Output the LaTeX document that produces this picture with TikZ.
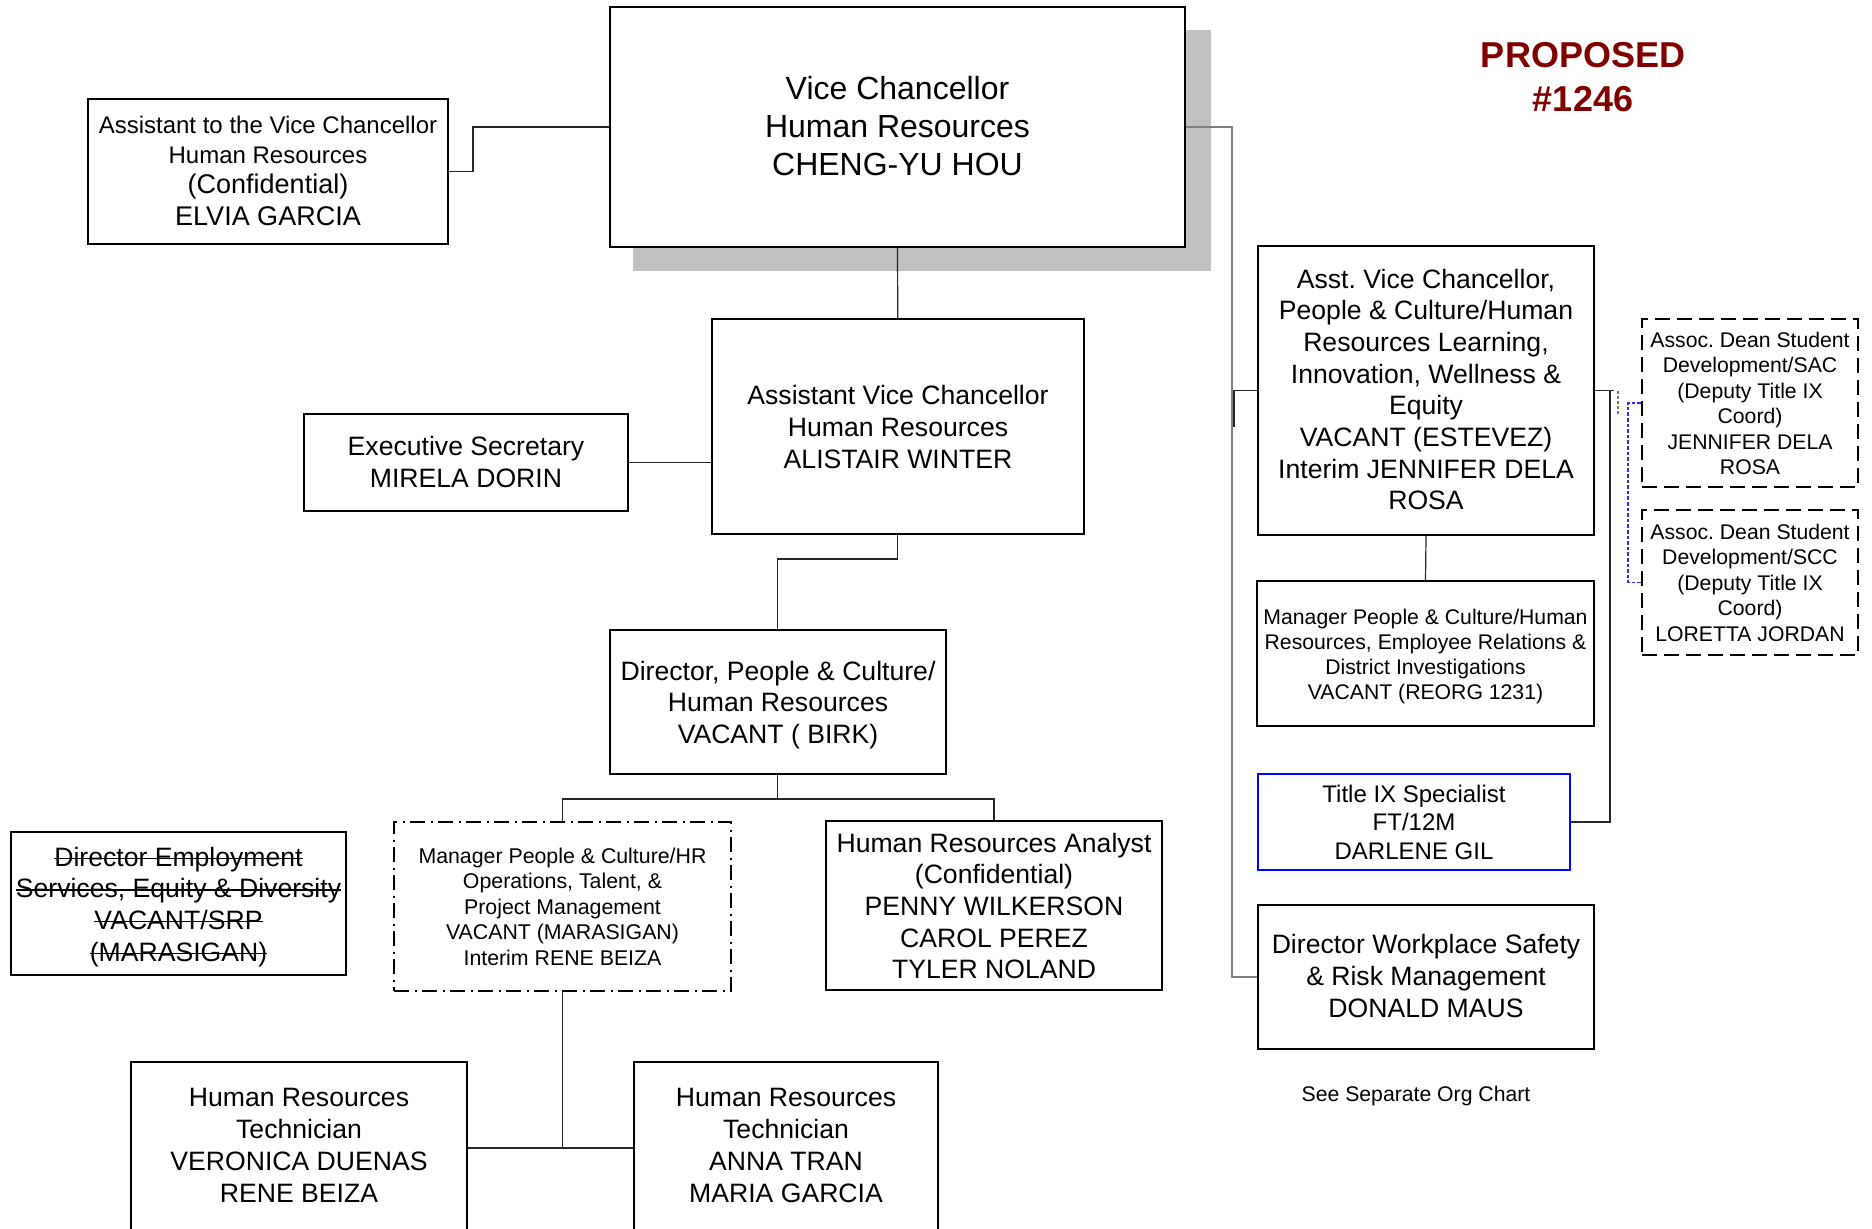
\documentclass[tikz,border=0pt]{standalone}
\usepackage{fontspec}
\setmainfont{Liberation Sans}
\usetikzlibrary{fit}
\newsavebox{\strkbox}
\newcommand{\mystrike}[1]{\sbox{\strkbox}{#1}\rlap{\rule[0.27em]{\wd\strkbox}{0.6pt}}\usebox{\strkbox}}
\definecolor{shadowgray}{RGB}{192,192,192}
\definecolor{propred}{RGB}{128,0,0}
\definecolor{linkblue}{RGB}{0,0,255}
\definecolor{dashblue}{RGB}{40,40,255}
\begin{document}
\frenchspacing
\begin{tikzpicture}[x=0.5pt,y=-0.5pt,
  box/.style={draw=black, fill=white, line width=1pt, inner sep=0pt, rectangle},
  dashbox/.style={box, dash pattern=on 7.5pt off 3.5pt},
  dotdashbox/.style={box, dash pattern=on 7.5pt off 2.75pt on 1pt off 2.75pt},
  bluebox/.style={box, draw=linkblue},
  txt/.style={align=center, inner sep=0pt, anchor=north, text=black},
  bigfont/.style={font=\fontsize{16}{19}\selectfont},
  midfont/.style={font=\fontsize{13.3}{15.85}\selectfont},
  smlfont/.style={font=\fontsize{10.6}{12.7}\selectfont},
  conn/.style={draw=black!85, line width=0.6pt},
  gconn/.style={draw=black!50, line width=0.7pt},
  gdash/.style={draw=black!55, line width=0.6pt, dash pattern=on 1.5pt off 1pt},
  bdash/.style={draw=dashblue, line width=0.6pt, dash pattern=on 1.8pt off 1pt},
]
\useasboundingbox (0,0) rectangle (1872,1228);
\clip (0,0) rectangle (1872,1228);

% ---------- boxes ----------
\fill[shadowgray] (633,30) rectangle (1211,271);
\node[box, fit={(610,7) (1185,247)}] (vc) {};
\node[box, fit={(88,99) (448,244)}] (asst) {};
\node[box, fit={(711.5,319) (1084,534)}] (avchr) {};
\node[box, fit={(304,414) (628,511)}] (exec) {};
\node[box, fit={(610,630) (945.5,774)}] (dirpc) {};
\node[dotdashbox, fit={(394,822) (731,991)}] (mgrops) {};
\node[box, fit={(826,821) (1162,990)}] (analyst) {};
\node[box, fit={(11,832) (346,975)}] (diremp) {};
\node[box, fit={(131,1062) (467,1300)}] (tech1) {};
\node[box, fit={(634,1062) (938,1300)}] (tech2) {};
\node[box, fit={(1258,246) (1594,535)}] (avcr) {};
\node[box, fit={(1257,581) (1594,726)}] (mgrer) {};
\node[bluebox, fit={(1258,774) (1570,870)}] (title9) {};
\node[box, fit={(1258,905) (1594,1049)}] (dirws) {};
\node[dashbox, fit={(1642,319) (1858,487)}] (sac) {};
\node[dashbox, fit={(1642,510) (1858,655)}] (scc) {};

% ---------- texts ----------
\node[txt, bigfont] (vc-t) at (897.5,75.5) {Vice Chancellor\\Human Resources\\CHENG-YU HOU};
\node[txt, font=\fontsize{13.5}{15}\selectfont] (asst-t) at (268,115.4)
  {{\fontsize{12}{15}\selectfont Assistant to the Vice Chancellor}\\{\fontsize{12}{15}\selectfont Human Resources}\\(Confidential)\\[1pt]ELVIA GARCIA};
\node[txt, font=\fontsize{13.3}{16}\selectfont] (avchr-t) at (898,384.4) {Assistant Vice Chancellor\\Human Resources\\ALISTAIR WINTER};
\node[txt, font=\fontsize{13.3}{16}\selectfont] (exec-t) at (466,435.4) {Executive Secretary\\MIRELA DORIN};
\node[txt, midfont] (dirpc-t) at (778,660.4) {Director, People \& Culture/\\Human Resources\\VACANT ( BIRK)};
\node[txt, font=\fontsize{10.66}{12.75}\selectfont] (mgrops-t) at (562.5,847.3)
  {Manager People \& Culture/HR\\Operations, Talent, \&\\Project Management\\VACANT (MARASIGAN)\\Interim RENE BEIZA};
\node[txt, midfont] (analyst-t) at (994,832.4) {Human Resources Analyst\\(Confidential)\\PENNY WILKERSON\\CAROL PEREZ\\TYLER NOLAND};
\node[txt, midfont] (diremp-t) at (178.5,846.4)
  {\mystrike{Director Employment}\\\mystrike{Services, Equity \& Diversity}\\\mystrike{VACANT/SRP}\\\mystrike{(MARASIGAN)}};
\node[txt, font=\fontsize{13.3}{16}\selectfont] (tech1-t) at (299,1087.4) {Human Resources\\Technician\\VERONICA DUENAS\\RENE BEIZA};
\node[txt, font=\fontsize{13.3}{16}\selectfont] (tech2-t) at (786,1087.4) {Human Resources\\Technician\\ANNA TRAN\\MARIA GARCIA};
\node[txt, midfont] (avcr-t) at (1426,268.4)
  {Asst.\ Vice Chancellor,\\People \& Culture/Human\\Resources Learning,\\Innovation, Wellness \&\\Equity\\VACANT (ESTEVEZ)\\Interim JENNIFER DELA\\ROSA};
\node[txt, font=\fontsize{10.6}{12.5}\selectfont] (mgrer-t) at (1425.5,608.4)
  {Manager People \& Culture/Human\\Resources, Employee Relations \&\\District Investigations\\VACANT (REORG 1231)};
\node[txt, font=\fontsize{12}{14.25}\selectfont] (title9-t) at (1414,784.4) {Title IX Specialist\\FT/12M\\DARLENE GIL};
\node[txt, font=\fontsize{13.3}{16}\selectfont] (dirws-t) at (1426,933.4) {Director Workplace Safety\\\& Risk Management\\DONALD MAUS};
\node[txt, font=\fontsize{10.6}{12.75}\selectfont] (sac-t) at (1750,331.4)
  {Assoc.\ Dean Student\\Development/SAC\\(Deputy Title IX\\Coord)\\JENNIFER DELA\\ROSA};
\node[txt, font=\fontsize{10.6}{12.75}\selectfont] (scc-t) at (1750,523.4)
  {Assoc.\ Dean Student\\Development/SCC\\(Deputy Title IX\\Coord)\\LORETTA JORDAN};
\node[inner sep=0pt, font=\fontsize{10.6}{12.7}\selectfont] (note) at (1416,1096) {See Separate Org Chart};
\node[txt, font=\bfseries\fontsize{18}{22}\selectfont, text=propred] (prop) at (1583,42) {PROPOSED\\\#1246};

% ---------- connectors ----------
\draw[conn] (asst.east) -- ++(24,0) |- (vc.west);
\draw[conn] (vc.south) -- (avchr.north);
\draw[conn] (exec.east) -- (exec.east -| avchr.west);
\draw[conn] (avchr.south) -- ++(0,24) -| (dirpc.north);
\draw[conn] (dirpc.south) -- ++(0,24) coordinate (busA);
\draw[conn] (mgrops.north) |- (busA) -| (analyst.north);
\draw[conn] (mgrops.south) -- ++(0,156) coordinate (busB);
\draw[conn] (tech1.east |- busB) -- (tech2.west |- busB);
\draw[gconn] (vc.east) -- ++(46,0) |- (dirws.west);
\draw[conn] (avcr.west) -| (1234,427);
\draw[conn] (avcr.south) -- (mgrer.north);
\draw[conn] (avcr.east) -- ++(19,0);
\draw[conn] ([xshift=7.5pt]avcr.east) |- (title9.east);
\draw[gdash] ([xshift=11.5pt]avcr.east) -- ++(0,25);
\draw[bdash] (sac.west) -- ++(-13,0) |- (scc.west);
\end{tikzpicture}
\end{document}
